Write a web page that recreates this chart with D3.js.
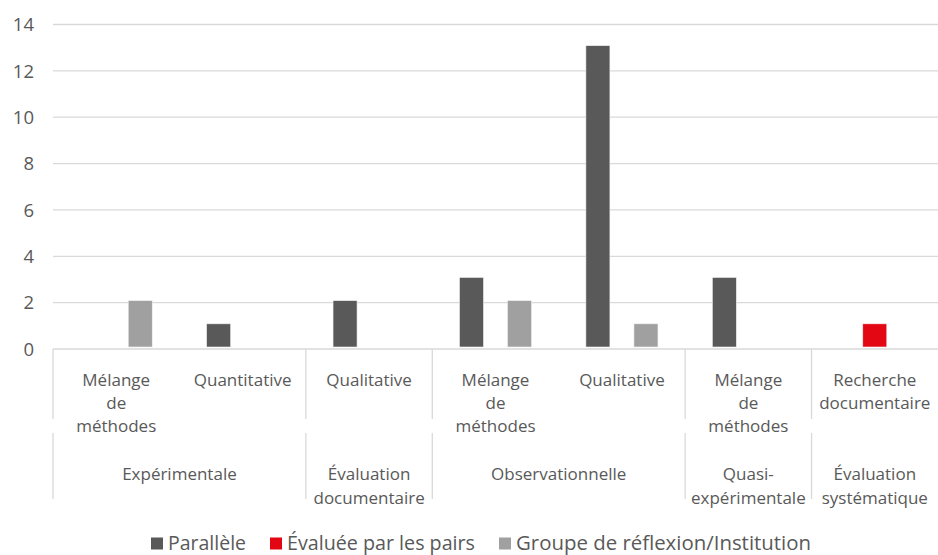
<!DOCTYPE html>
<html>
<head>
<meta charset="utf-8">
<script src="https://cdn.jsdelivr.net/npm/d3@7"></script>
<style>
  body { margin: 0; background: #fff; }
  svg { display: block; font-family: "Open Sans", sans-serif; }
</style>
</head>
<body>
<svg id="chart" width="938" height="555"></svg>
<script>
// inner (method) and outer (study type) category labels, one per bar group
const innerLabels = ["Mélange\nde\nméthodes", "Quantitative", "Qualitative", "Mélange\nde\nméthodes",
    "Qualitative", "Mélange\nde\nméthodes", "Recherche\ndocumentaire"];
const outerLabels = ["Expérimentale", "Évaluation\ndocumentaire", "Observationnelle",
    "Quasi-\nexpérimentale", "Évaluation\nsystématique"];
const outerSpans = [2, 1, 2, 1, 1];

const seriesNames = ["Parallèle", "Évaluée par les pairs", "Groupe de réflexion/Institution"];
const parallele = [0, 1, 2, 3, 13, 3, 0];
const evaluee = [0, 0, 0, 0, 0, 0, 1];
const groupe = [2, 0, 0, 2, 1, 0, 0];
const yTicks = [0, 2, 4, 6, 8, 10, 12, 14];

const colors = ["#595959", "#e30613", "#a0a0a0"];
const textColor = "#595959";
const lineColor = "#d9d9d9";

function render() {
    const svg = d3.select("#chart");
    const values = [parallele, evaluee, groupe];

    const y = d3.scaleLinear().domain([0, 14]).range([349, 24.5]);
    const x0 = d3.scaleBand().domain(d3.range(innerLabels.length)).range([53, 938]);
    const bw = x0.bandwidth();
    const x1 = d3.scaleBand().domain(d3.range(seriesNames.length))
        .range([(bw - 0.57 * bw) / 2, (bw + 0.57 * bw) / 2]);

    // grid + y labels
    svg.append("g")
        .selectAll("line")
        .data(yTicks.filter(t => t > 0))
        .join("line")
        .attr("x1", 53).attr("x2", 938)
        .attr("y1", d => y(d)).attr("y2", d => y(d))
        .attr("stroke", lineColor)
        .attr("stroke-width", 1.3);

    svg.append("g")
        .selectAll("text")
        .data(yTicks)
        .join("text")
        .attr("x", 34)
        .attr("y", d => y(d))
        .attr("dy", "0.36em")
        .attr("text-anchor", "end")
        .attr("font-size", "18.5px")
        .attr("fill", textColor)
        .text(d => d);

    // bars
    const bars = [];
    values.forEach((arr, s) => arr.forEach((v, i) => { if (v > 0) bars.push({ s, i, v }); }));
    svg.append("g")
        .attr("transform", "translate(0,-2)")
        .selectAll("rect")
        .data(bars)
        .join("rect")
        .attr("x", d => x0(d.i) + x1(d.s))
        .attr("width", x1.bandwidth())
        .attr("y", d => y(d.v))
        .attr("height", d => y(0) - y(d.v))
        .attr("fill", d => colors[d.s])
        .attr("stroke", "#f0f0f0")
        .attr("stroke-width", 0.6);

    // category axis
    svg.append("line")
        .attr("x1", 53).attr("x2", 938)
        .attr("y1", y(0)).attr("y2", y(0))
        .attr("stroke", lineColor)
        .attr("stroke-width", 1.3);

    const starts = [0];
    outerSpans.forEach(n => starts.push(starts[starts.length - 1] + n));
    const edges = starts.map(k => k < innerLabels.length ? x0(k) : x0.range()[1]);

    const sep = svg.append("g").attr("stroke", lineColor).attr("stroke-width", 1.3);
    edges.slice(0, -1).forEach(ex => {
        sep.append("line").attr("x1", ex).attr("x2", ex).attr("y1", y(0)).attr("y2", 419);
        sep.append("line").attr("x1", ex).attr("x2", ex).attr("y1", 433).attr("y2", 499);
    });

    svg.append("g")
        .selectAll("text")
        .data(innerLabels)
        .join("text")
        .attr("text-anchor", "middle")
        .attr("font-size", "17px")
        .attr("fill", textColor)
        .attr("transform", (d, i) => `translate(${x0(i) + bw / 2},386)`)
        .selectAll("tspan")
        .data(d => d.split("\n"))
        .join("tspan")
        .attr("x", 0)
        .attr("y", (d, k) => k * 23)
        .text(d => d);

    svg.append("g")
        .selectAll("text")
        .data(outerLabels)
        .join("text")
        .attr("text-anchor", "middle")
        .attr("font-size", "17px")
        .attr("fill", textColor)
        .attr("transform", (d, i) => `translate(${(edges[i] + edges[i + 1]) / 2},480)`)
        .selectAll("tspan")
        .data(d => d.split("\n"))
        .join("tspan")
        .attr("x", 0)
        .attr("y", (d, k) => k * 24)
        .text(d => d);

    // legend
    const legendX = [151, 270, 499];
    const legendW = [78, 188, 295];
    const leg = svg.append("g")
        .selectAll("g")
        .data(seriesNames)
        .join("g")
        .attr("transform", (d, i) => `translate(${legendX[i]},0)`);
    leg.append("rect")
        .attr("y", 537.5).attr("width", 12).attr("height", 12)
        .attr("fill", (d, i) => colors[i]);
    leg.append("text")
        .attr("x", 17).attr("y", 549.5)
        .attr("font-size", "20px")
        .attr("fill", textColor)
        .attr("textLength", (d, i) => legendW[i])
        .attr("lengthAdjust", "spacingAndGlyphs")
        .text(d => d);
}
render();
</script>
</body>
</html>
